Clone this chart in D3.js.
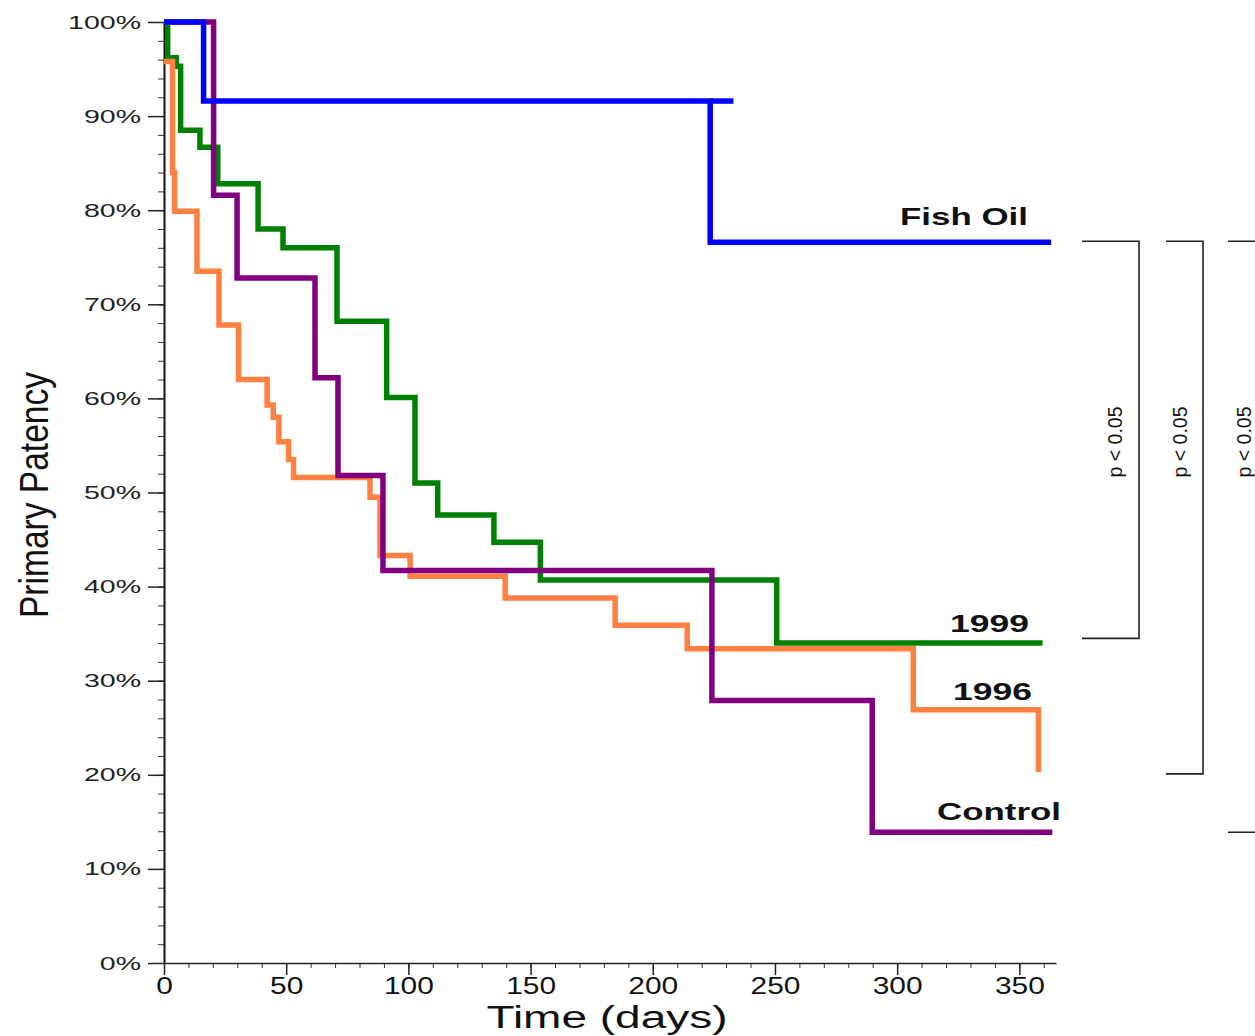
<!DOCTYPE html>
<html>
<head>
<meta charset="utf-8">
<script src="https://cdn.jsdelivr.net/npm/d3@7"></script>
<style>
  body { margin: 0; background: #fff; }
  svg { display: block; font-family: "Liberation Sans", Arial, sans-serif; }
</style>
</head>
<body>
<div class="km-chart"></div>
<script>
// Kaplan-Meier steps: day of each event, patency (%) after it
var fishOilDays = [0, 16.2, 223.5];
var fishOilPct  = [100, 91.6, 76.6];
var fishOilEnd  = 363;
var fishOilOvershoot = 233;   // the 91.6% line runs a bit past the drop

var y1999Days = [0, 1.5, 5, 6.8, 14.7, 22, 38.5, 48.7, 70.8, 91.1, 102.7, 112, 135, 154, 250.7];
var y1999Pct  = [100, 96.2, 95.3, 88.5, 86.7, 82.8, 78.0, 76.0, 68.2, 60.1, 51.0, 47.6, 44.7, 40.7, 34.0];
var y1999End  = 359.5;

var y1996Days = [0, 3.5, 4.3, 13.5, 22.5, 30.5, 42.2, 44.7, 47, 51, 53, 84.3, 88.4, 100.7, 139.6, 184.6, 214.1, 306.6, 357.8];
var y1996Pct  = [95.8, 84, 79.9, 73.5, 67.8, 62.0, 59.3, 58.0, 55.4, 53.5, 51.6, 49.5, 43.3, 41.1, 38.8, 35.9, 33.4, 26.9, 20.3];
var y1996End  = 357.8;

var controlDays = [0, 20.3, 29.9, 61.8, 71.2, 89.6, 224.2, 289.8];
var controlPct  = [100, 81.6, 72.8, 62.2, 51.8, 41.7, 27.9, 13.9];
var controlEnd  = 363.5;

var xTicks = [0, 50, 100, 150, 200, 250, 300, 350];
var yTicks = [0, 10, 20, 30, 40, 50, 60, 70, 80, 90, 100];

// significance brackets on the right (patency level of top and bottom arm)
var bracketTop    = [76.7, 76.7, 76.7];
var bracketBottom = [34.5, 20.1, 13.9];
var bracketText   = ["p < 0.05", "p < 0.05", "p < 0.05"];

function KMChart() {
    var w = 1255, h = 1036;

    var x = d3.scaleLinear().domain([0, 365]).range([164, 1056]);
    var y = d3.scaleLinear().domain([0, 100]).range([963, 22]);

    var svg = d3.select(".km-chart").append("svg")
        .attr("width", w)
        .attr("height", h);

    // stretch text horizontally like the scanned original
    var stretch = function(sel, k) {
        sel.each(function() {
            var len = this.getComputedTextLength();
            d3.select(this).attr("textLength", len * k).attr("lengthAdjust", "spacingAndGlyphs");
        });
    };

    // ---- axes ----
    var xMinor = svg.append("g")
        .attr("transform", "translate(0," + y(0) + ")")
        .call(d3.axisBottom(x).tickValues(d3.range(0, 366, 10)).tickSize(5).tickSizeOuter(0).tickFormat(""));
    xMinor.select(".domain").remove();
    xMinor.selectAll("line").attr("stroke", "#333");

    var xAxis = svg.append("g")
        .attr("transform", "translate(0," + y(0) + ")")
        .call(d3.axisBottom(x).tickValues(xTicks).tickSize(12).tickSizeOuter(0).tickPadding(3));
    xAxis.select(".domain").attr("stroke", "#222").attr("stroke-width", 1.5);
    xAxis.selectAll("line").attr("stroke", "#222").attr("stroke-width", 1.5);
    xAxis.selectAll("text")
        .attr("font-size", 23)
        .attr("fill", "#111")
        .attr("font-family", "Liberation Sans, Arial, sans-serif")
        .call(stretch, 1.3);

    var yMinor = svg.append("g")
        .attr("transform", "translate(" + x(0) + ",0)")
        .call(d3.axisLeft(y).tickValues(d3.range(0, 101, 2)).tickSize(6).tickSizeOuter(0).tickFormat(""));
    yMinor.select(".domain").remove();
    yMinor.selectAll("line").attr("stroke", "#333");

    var yAxis = svg.append("g")
        .attr("transform", "translate(" + x(0) + ",0)")
        .call(d3.axisLeft(y).tickValues(yTicks).tickSize(16).tickSizeOuter(0).tickPadding(7)
            .tickFormat(function(d) { return d + "%"; }));
    yAxis.select(".domain").attr("stroke", "#111").attr("stroke-width", 2);
    yAxis.selectAll("line").attr("stroke", "#222").attr("stroke-width", 1.5);
    yAxis.selectAll("text")
        .attr("font-size", 19)
        .attr("fill", "#222")
        .attr("font-family", "Liberation Sans, Arial, sans-serif")
        .call(stretch, 1.5);

    // axis titles
    svg.append("text")
        .attr("transform", "translate(48,495) rotate(-90)")
        .attr("text-anchor", "middle")
        .attr("font-family", "Liberation Sans Narrow, Arial Narrow, Liberation Sans, sans-serif")
        .attr("font-size", 40)
        .attr("fill", "#111")
        .attr("textLength", 246)
        .attr("lengthAdjust", "spacingAndGlyphs")
        .text("Primary Patency");

    svg.append("text")
        .attr("x", 607)
        .attr("y", 1028)
        .attr("text-anchor", "middle")
        .attr("font-size", 31)
        .attr("fill", "#111")
        .attr("textLength", 241)
        .attr("lengthAdjust", "spacingAndGlyphs")
        .text("Time (days)");

    // ---- curves ----
    var stepPoints = function(days, pct, end) {
        var pts = [];
        for (var i = 0; i < days.length; i++) {
            if (i > 0) pts.push([days[i], pct[i - 1]]);
            pts.push([days[i], pct[i]]);
        }
        pts.push([end, pct[pct.length - 1]]);
        return pts;
    };

    var line = d3.line()
        .x(function(d) { return x(d[0]); })
        .y(function(d) { return y(d[1]); });

    var curves = [
        { pts: stepPoints(y1999Days, y1999Pct, y1999End), color: "#008000" },
        { pts: stepPoints(y1996Days, y1996Pct, y1996End), color: "#ff8040" },
        { pts: stepPoints(controlDays, controlPct, controlEnd), color: "#800080" },
        { pts: stepPoints(fishOilDays, fishOilPct, fishOilEnd), color: "#0000ff" },
        { pts: [[fishOilDays[2], fishOilPct[1]], [fishOilOvershoot, fishOilPct[1]]], color: "#0000ff" }
    ];

    svg.append("g").selectAll("path")
        .data(curves)
        .join("path")
        .attr("d", function(d) { return line(d.pts); })
        .attr("fill", "none")
        .attr("stroke", function(d) { return d.color; })
        .attr("stroke-width", 5.5)
        .attr("stroke-linejoin", "miter");

    // ---- curve labels ----
    var labels = [
        { text: "Fish Oil", x: 1028, y: 225, len: 128 },
        { text: "1999",     x: 1029, y: 632, len: 79 },
        { text: "1996",     x: 1032, y: 700, len: 79 },
        { text: "Control",  x: 1061, y: 820, len: 124 }
    ];
    svg.append("g").selectAll("text")
        .data(labels)
        .join("text")
        .attr("x", function(d) { return d.x; })
        .attr("y", function(d) { return d.y; })
        .attr("text-anchor", "end")
        .attr("font-size", 24)
        .attr("font-weight", "bold")
        .attr("fill", "#111")
        .attr("textLength", function(d) { return d.len; })
        .attr("lengthAdjust", "spacingAndGlyphs")
        .text(function(d) { return d.text; });

    // ---- significance brackets ----
    var bx = [[1082, 1139, 1122], [1166, 1203, 1187], [1228, 1266, 1251]];   // arm start, spine, text baseline
    var bg = svg.append("g").attr("fill", "none").attr("stroke", "#222").attr("stroke-width", 1.6);
    bracketTop.forEach(function(t, i) {
        var b = bracketBottom[i];
        bg.append("path")
            .attr("d", "M" + bx[i][0] + "," + y(t) + "H" + bx[i][1] + "V" + y(b) + "H" + bx[i][0]);
        svg.append("text")
            .attr("transform", "translate(" + bx[i][2] + ",442) rotate(-90)")
            .attr("text-anchor", "middle")
            .attr("font-family", "Liberation Sans Narrow, Arial Narrow, Liberation Sans, sans-serif")
            .attr("font-size", 20)
            .attr("fill", "#111")
            .attr("textLength", 71)
            .attr("lengthAdjust", "spacingAndGlyphs")
            .text(bracketText[i]);
    });
}

KMChart();
</script>
</body>
</html>
